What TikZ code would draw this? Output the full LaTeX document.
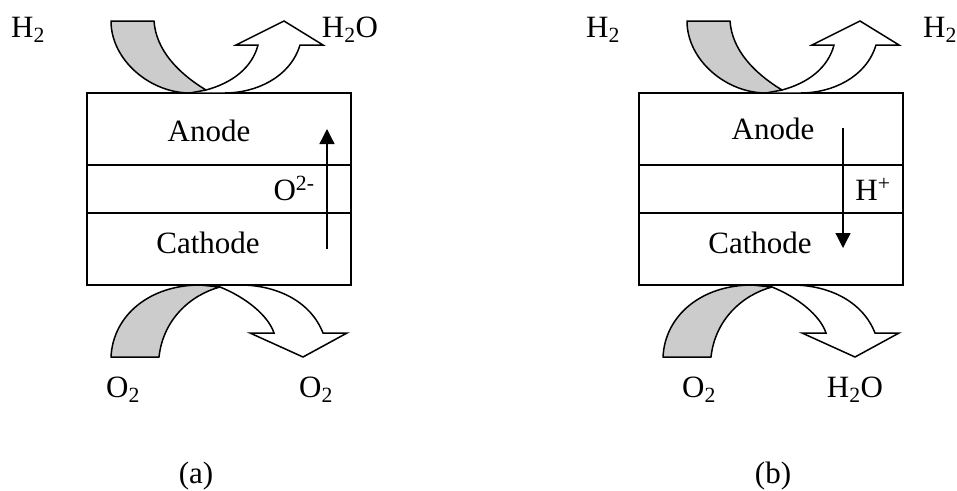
\documentclass[tikz,border=0pt]{standalone}
\usepackage{fontspec}
\setmainfont{Liberation Serif}
\usetikzlibrary{arrows.meta,positioning}
\tikzset{
  cell/.style={draw,line width=1.3pt,minimum width=264pt,inner sep=0pt,outer sep=0pt},
  graypipe/.style={draw,line width=1.5pt,line join=round,fill=black!20},
  whitepipe/.style={draw,line width=1.5pt,line join=miter,fill=white},
  lab/.style={inner sep=0pt,anchor=base,font=\fontsize{31}{35}\selectfont},
  ion/.style={-{Stealth[length=15pt,width=15pt,inset=0pt]},line width=1.3pt}
}
\newcommand{\inflow}{
\draw[whitepipe] (206,90) .. controls (232,83) and (252,68) .. (258,45) -- (236,45) -- (284,21) -- (323,45) -- (300,45) .. controls (290,78) and (255,93) .. (225,93) -- (190,93);
\draw[graypipe] (111,21) .. controls (111,60) and (150,93) .. (190,93) -- (206,90) .. controls (178,73) and (156,50) .. (154,21) -- cycle;
}
\newcommand{\outflow}{
\draw[whitepipe] (220,287) .. controls (245,297) and (268,315) .. (274,333) -- (250,333) -- (303,357) -- (347,333) -- (323,333) .. controls (310,300) and (275,285) .. (240,285) -- (190,285);
\draw[graypipe] (111,357) .. controls (113,315) and (150,285) .. (200,285) -- (220,287) .. controls (190,295) and (163,320) .. (159,357) -- cycle;
}
\begin{document}
\begin{tikzpicture}[x=1pt,y=-1pt]
\useasboundingbox (0,0) rectangle (957,490);
% left cell
\node[cell,minimum height=72pt,anchor=north west] (anodeA) at (87,93) {};
\node[cell,minimum height=48pt,below=0pt of anodeA] (elecA) {};
\node[cell,minimum height=72pt,below=0pt of elecA] (cathA) {};
\node[lab] (anodeTxtA) at (209,141) {Anode};
\node[lab] (cathTxtA) at (208,253) {Cathode};
\node[lab] (ionA) at (294,200) {O\textsuperscript{2-}};
\coordinate (ionAs) at (327,249);
\coordinate (ionAe) at (327,129);
\draw[ion] (ionAs) -- (ionAe);
\inflow
\outflow
\node[lab] (h2inA) at (28,37) {H\textsubscript{2}};
\node[lab] (h2outA) at (350,37) {H\textsubscript{2}O};
\node[lab] (o2inA) at (123,397) {O\textsubscript{2}};
\node[lab] (o2outA) at (316,397) {O\textsubscript{2}};
\node[lab] (capA) at (196,483) {(a)};
% right cell
\node[cell,minimum height=72pt,anchor=north west] (anodeB) at (639,93) {};
\node[cell,minimum height=48pt,below=0pt of anodeB] (elecB) {};
\node[cell,minimum height=72pt,below=0pt of elecB] (cathB) {};
\node[lab] (anodeTxtB) at (773,139) {Anode};
\node[lab] (cathTxtB) at (760,253) {Cathode};
\node[lab] (ionB) at (873,200) {H\textsuperscript{+}};
\coordinate (ionBs) at (843,128);
\coordinate (ionBe) at (843,248);
\draw[ion] (ionBs) -- (ionBe);
\begin{scope}[xshift=576pt]
\inflow
\end{scope}
\begin{scope}[xshift=552pt]
\outflow
\end{scope}
\node[lab] (h2inB) at (603,37) {H\textsubscript{2}};
\node[lab] (h2outB) at (940,37) {H\textsubscript{2}};
\node[lab] (o2inB) at (699,397) {O\textsubscript{2}};
\node[lab] (o2outB) at (855,397) {H\textsubscript{2}O};
\node[lab] (capB) at (773,483) {(b)};
\end{tikzpicture}
\end{document}
